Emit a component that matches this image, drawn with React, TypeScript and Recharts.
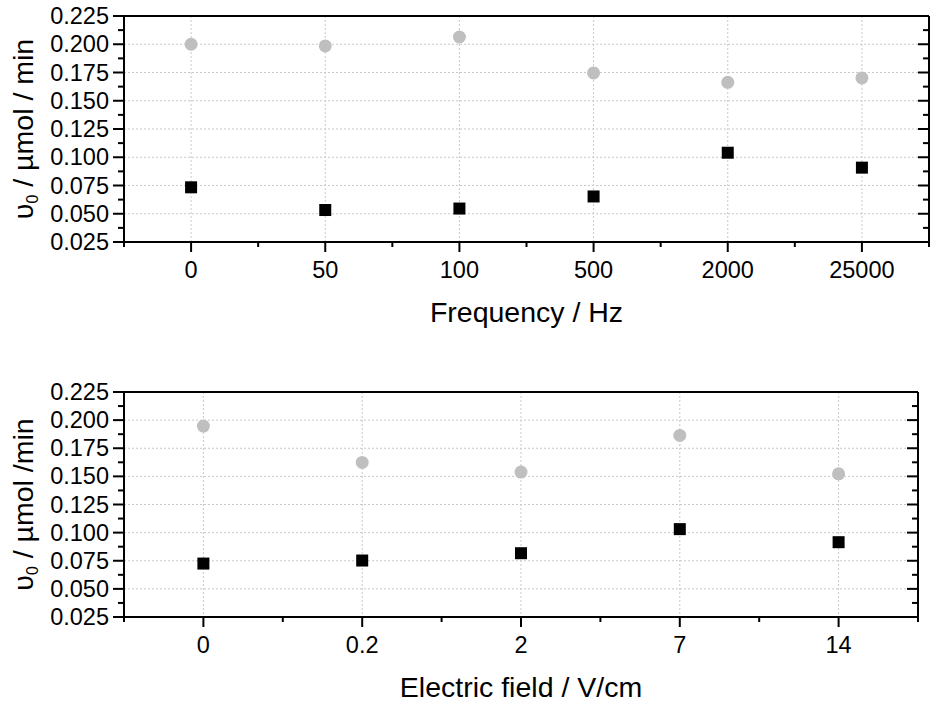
import React from 'react';
import { ScatterChart, Scatter, XAxis, YAxis, CartesianGrid } from 'recharts';

// ---- data ----
const freqCategories = ['0', '50', '100', '500', '2000', '25000'];
const freqGray = [0.2, 0.1985, 0.2064, 0.1746, 0.1663, 0.1702];
const freqBlack = [0.0734, 0.0533, 0.0546, 0.0653, 0.1040, 0.0908];

const fieldCategories = ['0', '0.2', '2', '7', '14'];
const fieldGray = [0.1947, 0.1624, 0.1538, 0.1864, 0.1523];
const fieldBlack = [0.0725, 0.0752, 0.0817, 0.1031, 0.0915];

const yMajorTicks = [0.025, 0.05, 0.075, 0.1, 0.125, 0.15, 0.175, 0.2, 0.225];
const yGridValues = [0.05, 0.075, 0.1, 0.125, 0.15, 0.175, 0.2];
const yDomain: [number, number] = [0.025, 0.225];

const FONT = '"Liberation Sans", Arial, Helvetica, sans-serif';
const GRAY = '#bfbfbf';
const TICK_FS = 23.5;
const TITLE_FS = 28.5;

const yAllTicks: number[] = [];
yMajorTicks.forEach((v, i) => {
  yAllTicks.push(v);
  if (i < yMajorTicks.length - 1) yAllTicks.push((v + yMajorTicks[i + 1]) / 2);
});

const isMajorY = (v: number) => yMajorTicks.some((m) => Math.abs(m - v) < 1e-6);

const GrayDot = (p: any) => <circle cx={p.cx} cy={p.cy} r={6.5} fill={GRAY} />;
const BlackSquare = (p: any) => <rect x={p.cx - 6} y={p.cy - 6} width={12} height={12} fill="#000" />;

interface PanelProps {
  categories: string[];
  gray: number[];
  black: number[];
  yLabelRest: string;
  xLabel: string;
  width: number;
  height: number;
  margin: { top: number; right: number; bottom: number; left: number };
  xAxisHeight: number;
}

function Panel({ categories, gray, black, yLabelRest, xLabel, width, height, margin, xAxisHeight }: PanelProps) {
  const n = categories.length;
  const grayData = categories.map((c, i) => ({ x: i, y: gray[i], name: c }));
  const blackData = categories.map((c, i) => ({ x: i, y: black[i], name: c }));
  const xTicks: number[] = [];
  for (let i = 0; i <= 2 * n; i++) xTicks.push(-0.5 + i * 0.5);
  const xGrid = categories.map((_, i) => i);
  const xDomain: [number, number] = [-0.5, n - 0.5];

  const BottomTick = (p: any) => {
    const v = p.payload.value;
    const major = Number.isInteger(v);
    return (
      <g>
        <line x1={p.x} x2={p.x} y1={p.y} y2={p.y + (major ? 10 : 5)} stroke="#000" strokeWidth={2} />
        {major && (
          <text x={p.x} y={p.y + 36} textAnchor="middle" fontFamily={FONT} fontSize={TICK_FS} fill="#000">
            {categories[v]}
          </text>
        )}
      </g>
    );
  };
  const TopTick = (p: any) => {
    const v = p.payload.value;
    const major = Number.isInteger(v);
    return <line x1={p.x} x2={p.x} y1={p.y} y2={p.y + (major ? 8 : 7)} stroke="#000" strokeWidth={2} />;
  };
  const LeftTick = (p: any) => {
    const v = p.payload.value;
    const major = isMajorY(v);
    return (
      <g>
        <line x1={p.x} x2={p.x - (major ? 11 : 6)} y1={p.y} y2={p.y} stroke="#000" strokeWidth={2} />
        {major && (
          <text x={p.x - 15} y={p.y + 8} textAnchor="end" fontFamily={FONT} fontSize={TICK_FS} fill="#000">
            {v.toFixed(3)}
          </text>
        )}
      </g>
    );
  };
  const RightTick = (p: any) => {
    const v = p.payload.value;
    const major = isMajorY(v);
    return <line x1={p.x} x2={p.x - (major ? 11 : 6)} y1={p.y} y2={p.y} stroke="#000" strokeWidth={2} />;
  };

  const xLabelContent = (p: any) => {
    const vb = p.viewBox || {};
    return (
      <text x={vb.x + vb.width / 2} y={vb.y + 80} textAnchor="middle" fontFamily={FONT} fontSize={TITLE_FS} fill="#000">
        {xLabel}
      </text>
    );
  };
  const yLabelContent = (p: any) => {
    const vb = p.viewBox || {};
    const cx = 33;
    const cy = vb.y + vb.height / 2;
    return (
      <text
        x={cx}
        y={cy}
        transform={`rotate(-90, ${cx}, ${cy})`}
        textAnchor="middle"
        fontFamily={FONT}
        fontSize={TITLE_FS}
        fill="#000"
      >
        <tspan>υ</tspan>
        <tspan fontSize={16} dy={5}>0</tspan>
        <tspan dy={-5}>{yLabelRest}</tspan>
      </text>
    );
  };

  const axisLine = { stroke: '#000', strokeWidth: 2 };

  return (
    <ScatterChart width={width} height={height} margin={margin}>
      <CartesianGrid
        xAxisId="b"
        yAxisId="l"
        horizontalValues={yGridValues}
        verticalValues={xGrid}
        stroke="#c8c8c8"
        strokeDasharray="2 2"
      />
      <XAxis
        xAxisId="b"
        type="number"
        dataKey="x"
        domain={xDomain}
        allowDataOverflow
        ticks={xTicks}
        interval={0}
        tickSize={0}
        tickMargin={0}
        tickLine={false}
        axisLine={axisLine}
        height={xAxisHeight}
        tick={BottomTick}
        label={xLabelContent}
      />
      <XAxis
        xAxisId="t"
        orientation="top"
        type="number"
        domain={xDomain}
        allowDataOverflow
        ticks={xTicks}
        interval={0}
        tickSize={0}
        tickMargin={0}
        tickLine={false}
        axisLine={axisLine}
        height={1}
        tick={TopTick}
      />
      <YAxis
        yAxisId="l"
        type="number"
        dataKey="y"
        domain={yDomain}
        allowDataOverflow
        ticks={yAllTicks}
        interval={0}
        tickSize={0}
        tickMargin={0}
        tickLine={false}
        axisLine={axisLine}
        width={124}
        tick={LeftTick}
        label={yLabelContent}
      />
      <YAxis
        yAxisId="r"
        orientation="right"
        type="number"
        domain={yDomain}
        allowDataOverflow
        ticks={yAllTicks}
        interval={0}
        tickSize={0}
        tickMargin={0}
        tickLine={false}
        axisLine={axisLine}
        width={1}
        tick={RightTick}
      />
      <Scatter xAxisId="b" yAxisId="l" data={grayData} shape={GrayDot} isAnimationActive={false} />
      <Scatter xAxisId="b" yAxisId="l" data={blackData} shape={BlackSquare} isAnimationActive={false} />
    </ScatterChart>
  );
}

export default function App() {
  return (
    <div style={{ position: 'absolute', left: 0, top: 0, width: 935, height: 705, background: '#fff' }}>
      <div style={{ position: 'absolute', left: 0, top: 0 }}>
        <Panel
          categories={freqCategories}
          gray={freqGray}
          black={freqBlack}
          yLabelRest=" / µmol / min"
          xLabel="Frequency / Hz"
          width={935}
          height={350}
          margin={{ top: 15, right: 5, bottom: 0, left: 0 }}
          xAxisHeight={108}
        />
      </div>
      <div style={{ position: 'absolute', left: 0, top: 350 }}>
        <Panel
          categories={fieldCategories}
          gray={fieldGray}
          black={fieldBlack}
          yLabelRest=" / µmol /min"
          xLabel="Electric field / V/cm"
          width={935}
          height={355}
          margin={{ top: 41, right: 16, bottom: 0, left: 0 }}
          xAxisHeight={88}
        />
      </div>
    </div>
  );
}
